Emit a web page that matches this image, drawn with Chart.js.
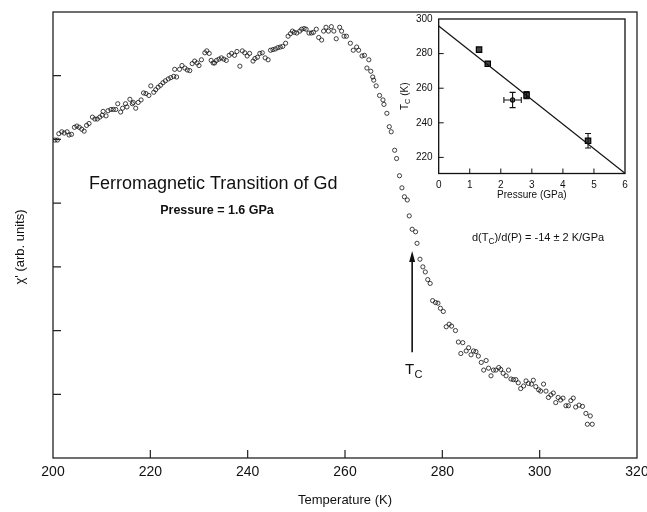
<!DOCTYPE html>
<html><head><meta charset="utf-8">
<script src="https://cdn.jsdelivr.net/npm/chart.js@4.4.1/dist/chart.umd.min.js"></script>
<style>
html,body{margin:0;padding:0;background:#fff;}
#wrap{position:relative;width:647px;height:512px;overflow:hidden;}
#main{position:absolute;left:0;top:0;}
#inset{position:absolute;left:390px;top:0;}
</style></head><body>
<div id="wrap"><canvas id="main" width="647" height="512"></canvas><canvas id="inset" width="250" height="210"></canvas></div>
<script>
// ---- main chart data ----
const temperatureK = [200.4,200.9,201.2,201.8,202.3,202.9,203.3,203.8,204.4,204.9,205.4,205.9,206.4,206.9,207.4,208.1,208.6,209.1,209.6,210.1,210.3,210.9,211.3,211.9,212.4,212.9,213.3,213.9,214.3,214.9,215.2,215.8,216.3,216.5,217.0,217.5,218.1,218.6,219.1,219.7,220.1,220.7,221.1,221.6,222.1,222.6,223.1,223.7,224.2,224.8,225.0,225.4,226.0,226.5,227.1,227.6,228.1,228.6,229.1,229.6,230.0,230.5,231.2,231.6,232.1,232.5,232.9,233.2,233.6,234.1,234.6,235.1,235.6,236.2,236.7,237.3,237.8,238.4,238.9,239.4,239.9,240.4,241.1,241.5,242.0,242.5,243.0,243.6,244.2,244.7,245.2,245.7,246.2,246.7,247.2,247.8,248.3,248.8,249.2,249.6,250.1,250.7,251.1,251.6,252.0,252.6,253.1,253.5,254.1,254.6,255.2,255.6,256.1,256.6,257.2,257.7,258.2,258.9,259.3,259.8,260.3,261.1,261.7,262.4,262.8,263.5,264.0,264.5,264.9,265.3,265.7,265.9,266.4,267.1,267.8,268.0,268.6,269.1,269.5,270.2,270.6,271.2,271.7,272.2,272.8,273.2,273.8,274.5,274.8,275.4,276.0,276.5,277.0,277.5,278.0,278.6,279.1,279.6,280.2,280.8,281.4,281.9,282.7,283.3,283.8,284.2,284.9,285.4,285.9,286.4,286.9,287.4,288.0,288.5,289.0,289.5,290.0,290.5,291.0,291.6,292.0,292.5,293.1,293.6,294.1,294.6,295.1,295.6,296.1,296.7,297.2,297.7,298.3,298.7,299.2,299.8,300.2,300.8,301.3,301.8,302.3,302.8,303.3,303.8,304.3,304.8,305.4,305.9,306.4,306.9,307.4,308.1,308.8,309.5,309.8,310.4,310.8];
const chiArb = [4.99,4.99,5.09,5.12,5.10,5.12,5.07,5.08,5.19,5.21,5.19,5.16,5.13,5.22,5.25,5.35,5.32,5.32,5.35,5.38,5.44,5.37,5.45,5.47,5.47,5.47,5.56,5.43,5.49,5.56,5.51,5.63,5.56,5.58,5.49,5.58,5.62,5.73,5.72,5.69,5.84,5.74,5.78,5.82,5.85,5.89,5.92,5.95,5.97,5.99,6.10,5.98,6.10,6.16,6.12,6.09,6.08,6.19,6.23,6.20,6.16,6.25,6.36,6.39,6.35,6.24,6.20,6.20,6.24,6.26,6.28,6.26,6.24,6.32,6.35,6.32,6.38,6.15,6.39,6.36,6.31,6.35,6.23,6.27,6.29,6.35,6.36,6.28,6.25,6.40,6.41,6.42,6.44,6.45,6.46,6.51,6.62,6.66,6.70,6.68,6.67,6.70,6.73,6.74,6.73,6.67,6.67,6.68,6.73,6.60,6.56,6.70,6.76,6.70,6.77,6.70,6.58,6.76,6.70,6.62,6.62,6.51,6.40,6.45,6.40,6.31,6.32,6.12,6.25,6.07,5.98,5.93,5.84,5.69,5.62,5.55,5.41,5.20,5.12,4.83,4.70,4.43,4.24,4.10,4.05,3.80,3.59,3.55,3.37,3.12,3.00,2.92,2.80,2.74,2.47,2.44,2.43,2.35,2.30,2.06,2.10,2.07,2.00,1.82,1.64,1.81,1.68,1.73,1.62,1.68,1.67,1.60,1.50,1.38,1.53,1.41,1.29,1.38,1.38,1.42,1.39,1.33,1.29,1.38,1.24,1.23,1.23,1.18,1.09,1.13,1.21,1.17,1.16,1.22,1.12,1.07,1.05,1.16,1.05,0.95,0.99,1.02,0.87,0.95,0.91,0.94,0.82,0.82,0.90,0.94,0.80,0.83,0.81,0.70,0.53,0.66,0.53];
const xTickValues = [200,220,240,260,280,300,320];
const yTickValues = [0,1,2,3,4,5,6,7];
const tcArrowT = 273.8;
const tcArrowFromChi = 1.66;
const tcArrowToChi = 3.25;

// ---- inset data ----
const pressureGPa = [1.30,1.58,2.38,2.83,4.81];
const tcK = [282.3,274.1,253.2,256.0,229.6];
const pressureErr = [0,0,0.28,0,0];
const tcErr = [0,0,4.4,2.0,4.2];
const fitPressure = [0,6];
const fitTc = [296,210.8];
const insetXTicks = [0,1,2,3,4,5,6];
const insetYTicks = [220,240,260,280,300];

const FONT = 'Liberation Sans, Arial, Helvetica, sans-serif';
const INK = '#111';

function drawSub(ctx, parts, x, y, size, align) {
  let total = 0;
  const widths = parts.map(p => {
    ctx.font = (p[1] ? size*0.75 : size) + 'px ' + FONT;
    const w = ctx.measureText(p[0]).width; total += w; return w;
  });
  let cx = align === 'center' ? x - total/2 : x;
  parts.forEach((p, i) => {
    ctx.font = (p[1] ? size*0.75 : size) + 'px ' + FONT;
    ctx.fillText(p[0], cx, p[1] ? y + size*0.3 : y);
    cx += widths[i];
  });
}

const mainDecor = {
  id: 'mainDecor',
  afterDraw(chart) {
    const {ctx, chartArea: a, scales: {x, y}} = chart;
    ctx.save();
    ctx.strokeStyle = '#222';
    ctx.lineWidth = 1.3;
    ctx.strokeRect(a.left, a.top, a.right - a.left, a.bottom - a.top);
    ctx.lineWidth = 1.2;
    ctx.beginPath();
    xTickValues.forEach(v => {
      if (v > x.min && v < x.max) { const px = x.getPixelForValue(v); ctx.moveTo(px, a.bottom); ctx.lineTo(px, a.bottom - 8); }
    });
    yTickValues.forEach(v => {
      if (v > y.min && v < y.max) { const py = y.getPixelForValue(v); ctx.moveTo(a.left, py); ctx.lineTo(a.left + 8, py); }
    });
    ctx.stroke();
    // Tc arrow
    const ax = x.getPixelForValue(tcArrowT);
    const ay0 = y.getPixelForValue(tcArrowFromChi);
    const ay1 = y.getPixelForValue(tcArrowToChi);
    ctx.strokeStyle = INK; ctx.lineWidth = 1.6;
    ctx.beginPath(); ctx.moveTo(ax, ay0); ctx.lineTo(ax, ay1 + 8); ctx.stroke();
    ctx.fillStyle = INK;
    ctx.beginPath(); ctx.moveTo(ax, ay1); ctx.lineTo(ax - 3, ay1 + 11); ctx.lineTo(ax + 3, ay1 + 11); ctx.closePath(); ctx.fill();
    // texts
    ctx.fillStyle = INK;
    ctx.textBaseline = 'alphabetic';
    ctx.textAlign = 'left';
    ctx.font = '18px ' + FONT;
    ctx.fillText('Ferromagnetic Transition of Gd', 89, 189);
    ctx.font = 'bold 12.5px ' + FONT;
    ctx.textAlign = 'center';
    ctx.fillText('Pressure = 1.6 GPa', 217, 214);
    ctx.textAlign = 'left';
    drawSub(ctx, [['d(T', false], ['C', true], [')/d(P) = -14 \u00b1 2 K/GPa', false]], 472, 241, 11, 'left');
    ctx.font = '15px ' + FONT;
    ctx.fillText('T', 405, 374);
    ctx.font = '11px ' + FONT;
    ctx.fillText('C', 414.5, 378);
    // y axis title
    ctx.save();
    ctx.translate(20, 247);
    ctx.rotate(-Math.PI / 2);
    ctx.textAlign = 'center';
    ctx.textBaseline = 'middle';
    ctx.font = '13px ' + FONT;
    ctx.fillText("\u03c7' (arb. units)", 0, 0);
    ctx.restore();
    ctx.restore();
  }
};

new Chart(document.getElementById('main'), {
  type: 'scatter',
  data: {
    datasets: [{
      data: temperatureK.map((t, i) => ({x: t, y: chiArb[i]})),
      pointStyle: 'circle',
      pointRadius: 2.1,
      pointHoverRadius: 2.1,
      pointBorderWidth: 0.8,
      borderColor: '#111',
      backgroundColor: 'rgba(255,255,255,0)'
    }]
  },
  options: {
    responsive: false,
    animation: false,
    events: [],
    layout: {padding: {top: 12, right: 10, left: 53, bottom: 0}},
    plugins: {legend: {display: false}, tooltip: {enabled: false}},
    scales: {
      x: {
        type: 'linear', min: 200, max: 320,
        afterBuildTicks: s => { s.ticks = xTickValues.map(v => ({value: v})); },
        afterFit: s => { s.paddingRight = 0; s.paddingLeft = 0; },
        grid: {display: false, drawTicks: false},
        border: {display: false},
        ticks: {font: {family: FONT, size: 14}, color: INK, padding: 6, maxRotation: 0, autoSkip: false},
        title: {display: true, text: 'Temperature (K)', font: {family: FONT, size: 13}, color: INK, padding: {top: 5.6, bottom: 4}}
      },
      y: {
        type: 'linear', min: 0, max: 7,
        afterBuildTicks: s => { s.ticks = yTickValues.map(v => ({value: v})); },
        afterFit: s => { s.width = 0; },
        grid: {display: false, drawTicks: false},
        border: {display: false},
        ticks: {display: false},
        title: {display: false}
      }
    }
  },
  plugins: [mainDecor]
});

const insetDecor = {
  id: 'insetDecor',
  afterDatasetsDraw(chart) {
    const {ctx, chartArea: a, scales: {x, y}} = chart;
    ctx.save();
    ctx.strokeStyle = '#111';
    ctx.lineWidth = 1.3;
    ctx.strokeRect(a.left, a.top, a.right - a.left, a.bottom - a.top);
    ctx.lineWidth = 1;
    ctx.beginPath();
    insetXTicks.forEach(v => {
      if (v > x.min && v < x.max) { const px = x.getPixelForValue(v); ctx.moveTo(px, a.bottom); ctx.lineTo(px, a.bottom - 5); }
    });
    insetYTicks.forEach(v => {
      if (v > y.min && v < y.max) { const py = y.getPixelForValue(v); ctx.moveTo(a.left, py); ctx.lineTo(a.left + 5, py); }
    });
    ctx.stroke();
    // error bars
    ctx.lineWidth = 1.1;
    ctx.beginPath();
    pressureGPa.forEach((p, i) => {
      const cx = x.getPixelForValue(p), cy = y.getPixelForValue(tcK[i]);
      if (tcErr[i] > 0) {
        const y0 = y.getPixelForValue(tcK[i] - tcErr[i]), y1 = y.getPixelForValue(tcK[i] + tcErr[i]);
        ctx.moveTo(cx, y0); ctx.lineTo(cx, y1);
        ctx.moveTo(cx - 3, y0); ctx.lineTo(cx + 3, y0);
        ctx.moveTo(cx - 3, y1); ctx.lineTo(cx + 3, y1);
      }
      if (pressureErr[i] > 0) {
        const x0 = x.getPixelForValue(p - pressureErr[i]), x1 = x.getPixelForValue(p + pressureErr[i]);
        ctx.moveTo(x0, cy); ctx.lineTo(x1, cy);
        ctx.moveTo(x0, cy - 3); ctx.lineTo(x0, cy + 3);
        ctx.moveTo(x1, cy - 3); ctx.lineTo(x1, cy + 3);
      }
    });
    ctx.stroke();
    ctx.fillStyle = INK;
    // x title
    ctx.textAlign = 'center';
    ctx.textBaseline = 'middle';
    ctx.font = '10px ' + FONT;
    ctx.fillText('Pressure (GPa)', (a.left + a.right) / 2, a.bottom + 22);
    // rotated y title T_C (K)
    ctx.textAlign = 'left';
    ctx.translate(15, (a.top + a.bottom) / 2);
    ctx.rotate(-Math.PI / 2);
    drawSub(ctx, [['T', false], ['C', true], [' (K)', false]], 0, 0, 10, 'center');
    ctx.restore();
  }
};

new Chart(document.getElementById('inset'), {
  type: 'scatter',
  data: {
    datasets: [
      {
        type: 'line',
        data: fitPressure.map((p, i) => ({x: p, y: fitTc[i]})),
        borderColor: '#111', borderWidth: 1.2, pointRadius: 0, fill: false
      },
      {
        data: pressureGPa.map((p, i) => ({x: p, y: tcK[i]})),
        pointStyle: ['rect', 'rect', 'circle', 'rect', 'rect'],
        pointRadius: [3.8, 3.8, 2, 3.8, 3.8],
        pointHoverRadius: [3.8, 3.8, 2, 3.8, 3.8],
        backgroundColor: ['#444', '#444', '#fff', '#444', '#444'],
        borderColor: '#000',
        pointBorderWidth: 1.2
      }
    ]
  },
  options: {
    responsive: false,
    animation: false,
    events: [],
    layout: {padding: {top: 19, right: 15, left: 20, bottom: 13.5}},
    plugins: {legend: {display: false}, tooltip: {enabled: false}},
    scales: {
      x: {
        type: 'linear', min: 0, max: 6,
        afterBuildTicks: s => { s.ticks = insetXTicks.map(v => ({value: v})); },
        afterFit: s => { s.paddingRight = 0; s.paddingLeft = 0; },
        grid: {display: false, drawTicks: false},
        border: {display: false},
        ticks: {font: {family: FONT, size: 10}, color: INK, padding: 5.5, maxRotation: 0, autoSkip: false},
        title: {display: false}
      },
      y: {
        type: 'linear', min: 210.7, max: 300,
        afterBuildTicks: s => { s.ticks = insetYTicks.map(v => ({value: v})); },
        grid: {display: false, drawTicks: false},
        border: {display: false},
        ticks: {font: {family: FONT, size: 10}, color: INK, padding: 6},
        title: {display: false}
      }
    }
  },
  plugins: [insetDecor]
});
</script>
</body></html>
